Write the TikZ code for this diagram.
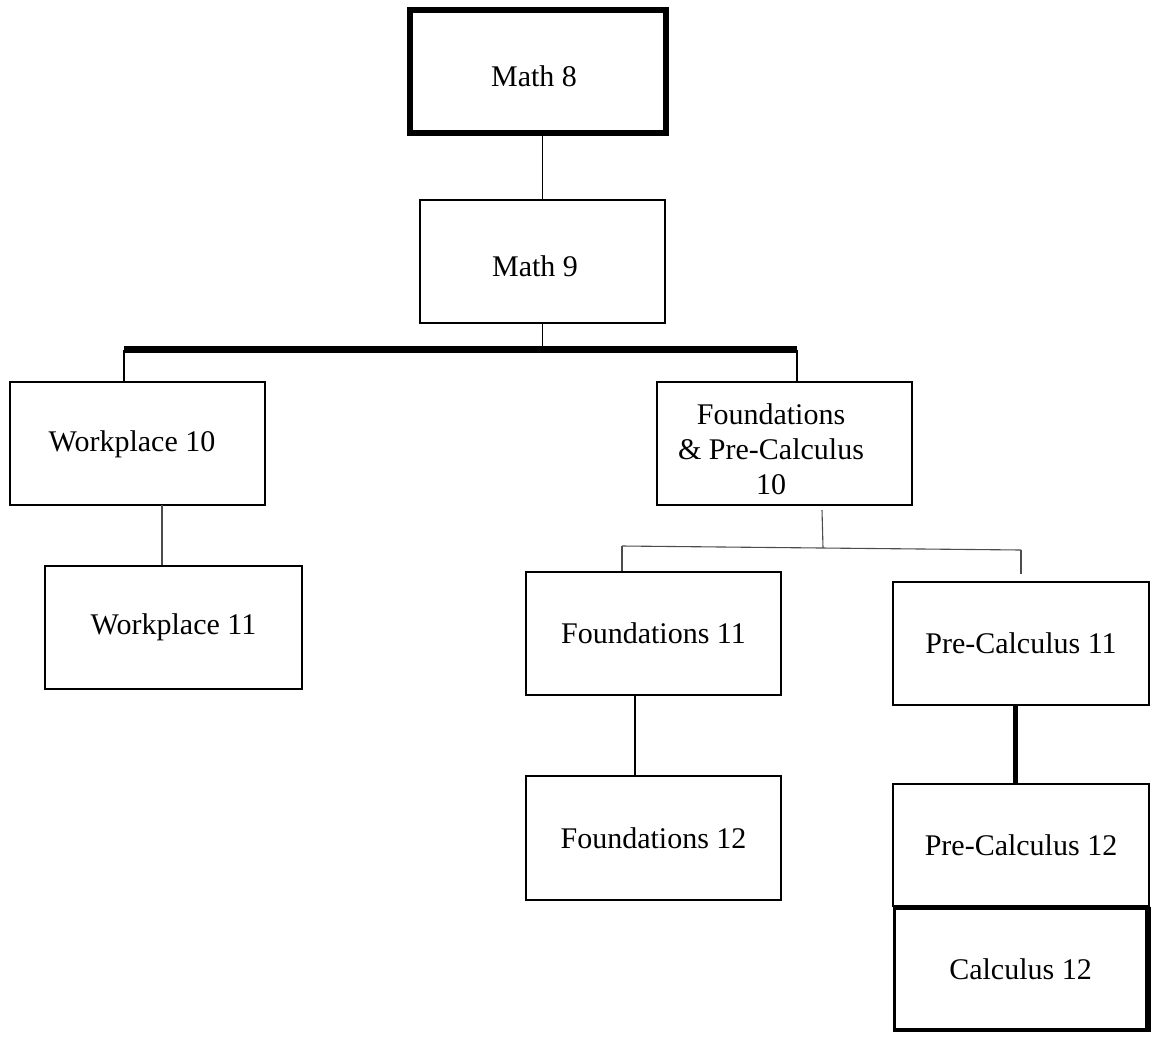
\documentclass[tikz,border=0pt]{standalone}
\usepackage{fontspec}
\setmainfont{Liberation Serif}
\begin{document}
\begin{tikzpicture}[x=1pt,y=-1pt,
  box/.style={draw=black,rectangle,inner sep=0pt,line width=2.5pt,
    font=\fontsize{30}{35}\selectfont,align=center},
  txt/.style={inner sep=0pt,font=\fontsize{30}{35}\selectfont,align=center},
  conn/.style={draw=black,line width=1.3pt},
  gconn/.style={draw=black!70,line width=1.1pt}]
\useasboundingbox (0,0) rectangle (1156,1036);
% boxes
\node[box,line width=6pt,minimum width=256pt,minimum height=123pt] (m8) at (538,71.5) {};
\node[txt] at (534,76) {Math 8};
\node[box,line width=1.3pt,minimum width=245pt,minimum height=123pt] (m9) at (542.5,261.5) {};
\node[txt] at (535,266) {Math 9};
\node[box,minimum width=255pt,minimum height=123pt] (w10) at (137.5,443.5) {};
\node[txt] at (132,444) {Workplace 10};
\node[box,minimum width=257pt,minimum height=123pt] (w11) at (173.5,627.5) {Workplace 11};
\node[box,minimum width=255pt,minimum height=123pt] (fpc10) at (784.5,443.5) {};
\node[txt] at (771,449) {Foundations\\\& Pre-Calculus\\10};
\node[box,minimum width=255pt,minimum height=123pt] (f11) at (653.5,633.5) {Foundations 11};
\node[box,minimum width=256pt,minimum height=123pt] (pc11) at (1021,643.5) {Pre-Calculus 11};
\node[box,minimum width=255pt,minimum height=124pt] (f12) at (653.5,838) {Foundations 12};
\node[box,minimum width=256pt,minimum height=122pt] (pc12) at (1021,845) {Pre-Calculus 12};
\node[box,line width=3.5pt,minimum width=252pt,minimum height=121.5pt] (c12) at (1020.5,969) {Calculus 12};
\draw[line width=6pt] (c12.north east) -- (c12.south east);
% connectors
\coordinate (barL) at (124,349.5);
\coordinate (barR) at (797,349.5);
\draw[conn] (m9.north) -- (m9.north |- m8.south);
\draw[conn] (m9.south) -- (m9.south |- barL);
\draw[line width=7pt] (barL) -- (barR);
\draw[conn] (barL) -- (barL |- w10.north);
\draw[conn] (barR) -- (barR |- fpc10.north);
\coordinate (w10b) at (162,505);
\draw[gconn] (w10b) -- (w10b |- w11.north);
\coordinate (fpcb) at (822,510);
\coordinate (jM) at (823,548);
\coordinate (jL) at (622,546);
\coordinate (jR) at (1021,550);
\coordinate (jRe) at (1021,574);
\draw[gconn] (fpcb) -- (jM);
\draw[gconn] (jL) -- (jR);
\draw[gconn] (jL) -- (jL |- f11.north);
\draw[gconn] (jR) -- (jRe);
\coordinate (f11b) at (635,695);
\draw[conn] (f11b) -- (f11b |- f12.north);
\coordinate (pc11b) at (1015,705);
\draw[line width=5pt] (pc11b) -- (pc11b |- pc12.north);
\end{tikzpicture}
\end{document}
